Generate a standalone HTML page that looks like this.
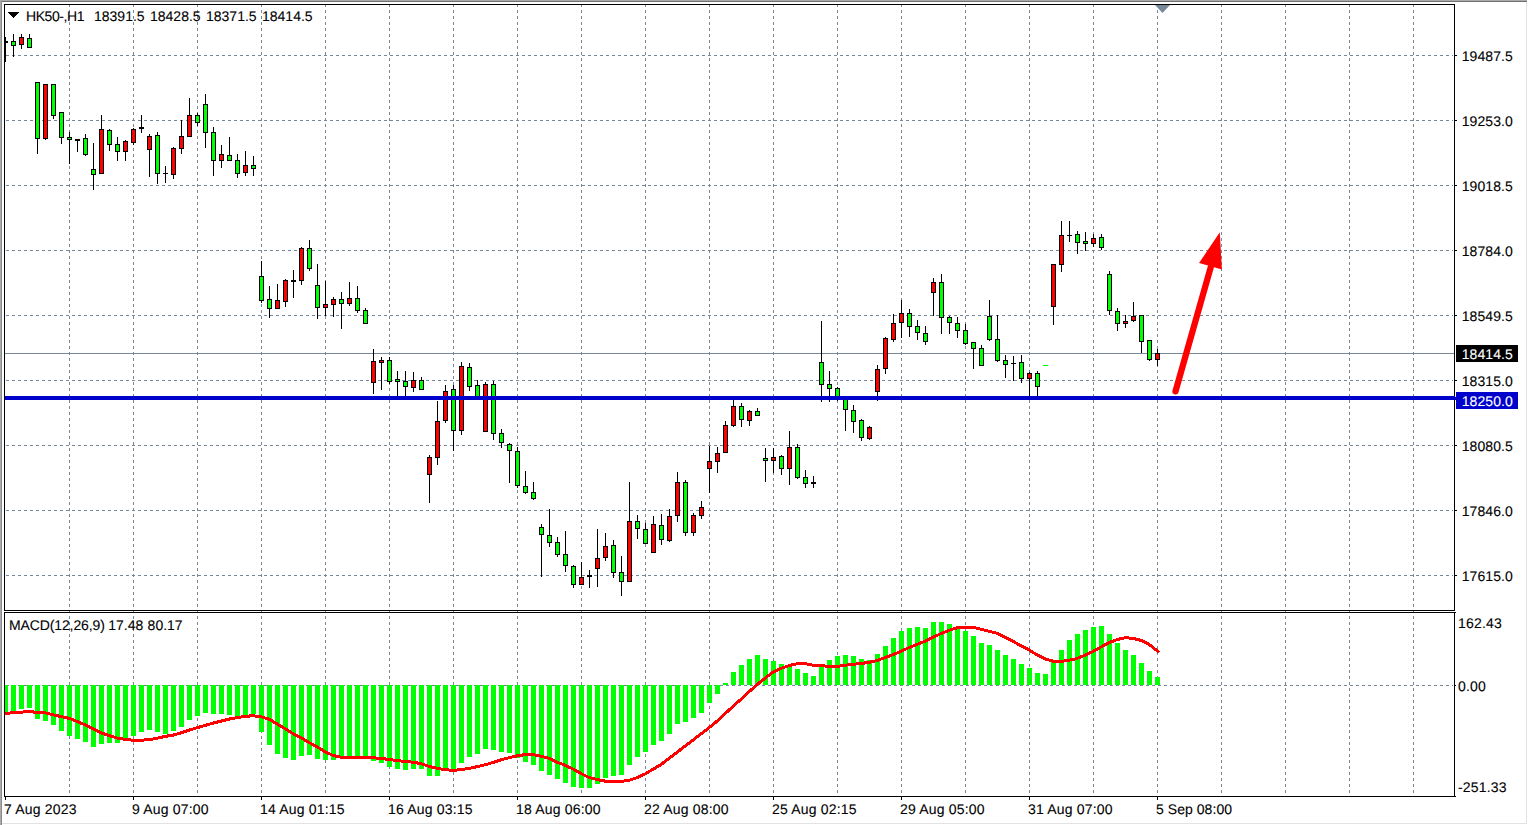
<!DOCTYPE html>
<html><head><meta charset="utf-8"><title>HK50-,H1</title>
<style>html,body{margin:0;padding:0;background:#fff;overflow:hidden}body{width:1528px;height:825px;position:relative;font-family:"Liberation Sans",sans-serif}</style></head>
<body>
<svg width="1528" height="825" viewBox="0 0 1528 825" style="position:absolute;left:0;top:0" shape-rendering="crispEdges">
<rect x="0" y="0" width="1528" height="825" fill="#fff"/>
<rect x="0" y="0" width="1527" height="1" fill="#ababab"/>
<rect x="1" y="1" width="1526" height="1" fill="#707070"/>
<rect x="0" y="0" width="1" height="825" fill="#ababab"/>
<rect x="1" y="1" width="1" height="824" fill="#8a8a8a"/>
<rect x="1526" y="2" width="1" height="822" fill="#e3e3e3"/>
<rect x="2" y="823" width="1525" height="1" fill="#e3e3e3"/>
<g stroke="#778899" stroke-width="1" stroke-dasharray="3 3" fill="none">
<path d="M69.5 4V610"/>
<path d="M69.5 610V796"/>
<path d="M133.5 4V610"/>
<path d="M133.5 610V796"/>
<path d="M197.5 4V610"/>
<path d="M197.5 610V796"/>
<path d="M261.5 4V610"/>
<path d="M261.5 610V796"/>
<path d="M325.5 4V610"/>
<path d="M325.5 610V796"/>
<path d="M389.5 4V610"/>
<path d="M389.5 610V796"/>
<path d="M453.5 4V610"/>
<path d="M453.5 610V796"/>
<path d="M517.5 4V610"/>
<path d="M517.5 610V796"/>
<path d="M581.5 4V610"/>
<path d="M581.5 610V796"/>
<path d="M645.5 4V610"/>
<path d="M645.5 610V796"/>
<path d="M709.5 4V610"/>
<path d="M709.5 610V796"/>
<path d="M773.5 4V610"/>
<path d="M773.5 610V796"/>
<path d="M837.5 4V610"/>
<path d="M837.5 610V796"/>
<path d="M901.5 4V610"/>
<path d="M901.5 610V796"/>
<path d="M965.5 4V610"/>
<path d="M965.5 610V796"/>
<path d="M1029.5 4V610"/>
<path d="M1029.5 610V796"/>
<path d="M1093.5 4V610"/>
<path d="M1093.5 610V796"/>
<path d="M1157.5 4V610"/>
<path d="M1157.5 610V796"/>
<path d="M1221.5 4V610"/>
<path d="M1221.5 610V796"/>
<path d="M1285.5 4V610"/>
<path d="M1285.5 610V796"/>
<path d="M1349.5 4V610"/>
<path d="M1349.5 610V796"/>
<path d="M1413.5 4V610"/>
<path d="M1413.5 610V796"/>
<path d="M6 55.5H1453"/>
<path d="M6 120.5H1453"/>
<path d="M6 185.5H1453"/>
<path d="M6 250.5H1453"/>
<path d="M6 315.5H1453"/>
<path d="M6 380.5H1453"/>
<path d="M6 445.5H1453"/>
<path d="M6 510.5H1453"/>
<path d="M6 575.5H1453"/>
<path d="M6 685.5H1453"/>
</g>
<g fill="#00ff00">
<rect x="5" y="685" width="3" height="28"/>
<rect x="11" y="685" width="5" height="26"/>
<rect x="19" y="685" width="5" height="24"/>
<rect x="27" y="685" width="5" height="23"/>
<rect x="35" y="685" width="5" height="34"/>
<rect x="43" y="685" width="5" height="36"/>
<rect x="51" y="685" width="5" height="40"/>
<rect x="59" y="685" width="5" height="46"/>
<rect x="67" y="685" width="5" height="51"/>
<rect x="75" y="685" width="5" height="54"/>
<rect x="83" y="685" width="5" height="57"/>
<rect x="91" y="685" width="5" height="62"/>
<rect x="99" y="685" width="5" height="59"/>
<rect x="107" y="685" width="5" height="58"/>
<rect x="115" y="685" width="5" height="58"/>
<rect x="123" y="685" width="5" height="53"/>
<rect x="131" y="685" width="5" height="51"/>
<rect x="139" y="685" width="5" height="47"/>
<rect x="147" y="685" width="5" height="45"/>
<rect x="155" y="685" width="5" height="47"/>
<rect x="163" y="685" width="5" height="49"/>
<rect x="171" y="685" width="5" height="46"/>
<rect x="179" y="685" width="5" height="42"/>
<rect x="187" y="685" width="5" height="35"/>
<rect x="195" y="685" width="5" height="31"/>
<rect x="203" y="685" width="5" height="28"/>
<rect x="211" y="685" width="5" height="29"/>
<rect x="219" y="685" width="5" height="29"/>
<rect x="227" y="685" width="5" height="30"/>
<rect x="235" y="685" width="5" height="31"/>
<rect x="243" y="685" width="5" height="30"/>
<rect x="251" y="685" width="5" height="29"/>
<rect x="259" y="685" width="5" height="47"/>
<rect x="267" y="685" width="5" height="60"/>
<rect x="275" y="685" width="5" height="69"/>
<rect x="283" y="685" width="5" height="73"/>
<rect x="291" y="685" width="5" height="75"/>
<rect x="299" y="685" width="5" height="71"/>
<rect x="307" y="685" width="5" height="70"/>
<rect x="315" y="685" width="5" height="74"/>
<rect x="323" y="685" width="5" height="75"/>
<rect x="331" y="685" width="5" height="75"/>
<rect x="339" y="685" width="5" height="73"/>
<rect x="347" y="685" width="5" height="73"/>
<rect x="355" y="685" width="5" height="73"/>
<rect x="363" y="685" width="5" height="73"/>
<rect x="371" y="685" width="5" height="76"/>
<rect x="379" y="685" width="5" height="78"/>
<rect x="387" y="685" width="5" height="82"/>
<rect x="395" y="685" width="5" height="84"/>
<rect x="403" y="685" width="5" height="85"/>
<rect x="411" y="685" width="5" height="84"/>
<rect x="419" y="685" width="5" height="84"/>
<rect x="427" y="685" width="5" height="91"/>
<rect x="435" y="685" width="5" height="91"/>
<rect x="443" y="685" width="5" height="85"/>
<rect x="451" y="685" width="5" height="85"/>
<rect x="459" y="685" width="5" height="78"/>
<rect x="467" y="685" width="5" height="72"/>
<rect x="475" y="685" width="5" height="69"/>
<rect x="483" y="685" width="5" height="64"/>
<rect x="491" y="685" width="5" height="65"/>
<rect x="499" y="685" width="5" height="67"/>
<rect x="507" y="685" width="5" height="68"/>
<rect x="515" y="685" width="5" height="73"/>
<rect x="523" y="685" width="5" height="77"/>
<rect x="531" y="685" width="5" height="80"/>
<rect x="539" y="685" width="5" height="86"/>
<rect x="547" y="685" width="5" height="90"/>
<rect x="555" y="685" width="5" height="94"/>
<rect x="563" y="685" width="5" height="98"/>
<rect x="571" y="685" width="5" height="102"/>
<rect x="579" y="685" width="5" height="103"/>
<rect x="587" y="685" width="5" height="103"/>
<rect x="595" y="685" width="5" height="99"/>
<rect x="603" y="685" width="5" height="93"/>
<rect x="611" y="685" width="5" height="91"/>
<rect x="619" y="685" width="5" height="90"/>
<rect x="627" y="685" width="5" height="80"/>
<rect x="635" y="685" width="5" height="72"/>
<rect x="643" y="685" width="5" height="67"/>
<rect x="651" y="685" width="5" height="60"/>
<rect x="659" y="685" width="5" height="56"/>
<rect x="667" y="685" width="5" height="49"/>
<rect x="675" y="685" width="5" height="39"/>
<rect x="683" y="685" width="5" height="37"/>
<rect x="691" y="685" width="5" height="33"/>
<rect x="699" y="685" width="5" height="28"/>
<rect x="707" y="685" width="5" height="18"/>
<rect x="715" y="685" width="5" height="9"/>
<rect x="723" y="683" width="5" height="2"/>
<rect x="731" y="672" width="5" height="13"/>
<rect x="739" y="665" width="5" height="20"/>
<rect x="747" y="659" width="5" height="26"/>
<rect x="755" y="655" width="5" height="30"/>
<rect x="763" y="659" width="5" height="26"/>
<rect x="771" y="661" width="5" height="24"/>
<rect x="779" y="664" width="5" height="21"/>
<rect x="787" y="665" width="5" height="20"/>
<rect x="795" y="669" width="5" height="16"/>
<rect x="803" y="673" width="5" height="12"/>
<rect x="811" y="676" width="5" height="9"/>
<rect x="819" y="665" width="5" height="20"/>
<rect x="827" y="660" width="5" height="25"/>
<rect x="835" y="656" width="5" height="29"/>
<rect x="843" y="655" width="5" height="30"/>
<rect x="851" y="656" width="5" height="29"/>
<rect x="859" y="659" width="5" height="26"/>
<rect x="867" y="660" width="5" height="25"/>
<rect x="875" y="654" width="5" height="31"/>
<rect x="883" y="646" width="5" height="39"/>
<rect x="891" y="638" width="5" height="47"/>
<rect x="899" y="631" width="5" height="54"/>
<rect x="907" y="628" width="5" height="57"/>
<rect x="915" y="627" width="5" height="58"/>
<rect x="923" y="628" width="5" height="57"/>
<rect x="931" y="622" width="5" height="63"/>
<rect x="939" y="622" width="5" height="63"/>
<rect x="947" y="624" width="5" height="61"/>
<rect x="955" y="627" width="5" height="58"/>
<rect x="963" y="631" width="5" height="54"/>
<rect x="971" y="636" width="5" height="49"/>
<rect x="979" y="643" width="5" height="42"/>
<rect x="987" y="645" width="5" height="40"/>
<rect x="995" y="650" width="5" height="35"/>
<rect x="1003" y="655" width="5" height="30"/>
<rect x="1011" y="659" width="5" height="26"/>
<rect x="1019" y="664" width="5" height="21"/>
<rect x="1027" y="668" width="5" height="17"/>
<rect x="1035" y="673" width="5" height="12"/>
<rect x="1043" y="674" width="5" height="11"/>
<rect x="1051" y="661" width="5" height="24"/>
<rect x="1059" y="650" width="5" height="35"/>
<rect x="1067" y="640" width="5" height="45"/>
<rect x="1075" y="634" width="5" height="51"/>
<rect x="1083" y="630" width="5" height="55"/>
<rect x="1091" y="627" width="5" height="58"/>
<rect x="1099" y="626" width="5" height="59"/>
<rect x="1107" y="634" width="5" height="51"/>
<rect x="1115" y="643" width="5" height="42"/>
<rect x="1123" y="650" width="5" height="35"/>
<rect x="1131" y="655" width="5" height="30"/>
<rect x="1139" y="663" width="5" height="22"/>
<rect x="1147" y="671" width="5" height="14"/>
<rect x="1155" y="677" width="5" height="8"/>
</g>
<polyline points="5,713.4 13,712.8 21,712.3 29,711.2 37,712.6 45,712.8 53,714.7 61,716.6 69,718.3 77,721.3 85,724.9 93,728.9 101,732.8 109,735.5 117,738 125,739.4 133,740.2 141,740.2 149,739.6 157,738.3 165,736.4 173,735.2 181,732.8 189,730.1 197,727.8 205,725.4 213,723.1 221,721.2 229,719.1 237,717.6 245,716.4 253,715.7 261,716.8 269,719.1 277,723.9 285,728.6 293,733.6 301,737.7 309,742.5 317,746.7 325,751.8 333,755.4 341,757.3 349,757.4 357,757.4 365,757.4 373,757.7 381,758.5 389,759.4 397,760.6 405,761.4 413,762.2 421,763.6 429,766.4 437,768.3 445,769.6 453,770.4 461,769.6 469,768.5 477,766.7 485,764.8 493,762.5 501,759.8 509,757.7 517,755.9 525,754.6 533,754.6 541,756.2 549,758.2 557,762.2 565,765.2 573,769 581,773.5 589,777.5 597,779.5 605,781.1 613,781.4 621,781.4 629,780.3 637,777.6 645,774 653,769.3 661,764.6 669,758.3 677,752.4 685,746.1 693,740.1 701,733.8 709,727.8 717,721.2 725,713.7 733,706.4 741,699.2 749,691.8 757,684.6 765,678.3 773,672.2 781,668.4 789,665.6 797,663.7 805,663.5 813,665.3 821,665.6 829,666.4 837,666.4 845,665.3 853,664.3 861,663.5 869,662.4 877,660.5 885,657.7 893,654.6 901,651.4 909,647.5 917,644.5 925,641.2 933,637.2 941,633.6 949,630.4 957,627.8 965,627.3 973,627.3 981,629.3 989,631.2 997,633.3 1005,637.2 1013,641.2 1021,645.9 1029,649.8 1037,654.9 1045,658.8 1053,661.2 1061,661.5 1069,660.3 1077,658.5 1085,655.1 1093,651.5 1101,647 1109,642.7 1117,639.6 1125,637.7 1133,638.3 1141,640.4 1149,644.3 1157,650.6 1159,652.2" fill="none" stroke="#ff0000" stroke-width="3" stroke-linejoin="round" shape-rendering="crispEdges"/>
<rect x="5" y="353" width="1449" height="1" fill="#778899"/>
<g>
<rect x="5" y="37" width="1" height="25" fill="#000"/>
<rect x="5" y="41" width="3" height="2" fill="#000"/>
<rect x="13" y="34" width="1" height="23" fill="#000"/>
<rect x="11" y="41" width="5" height="5" fill="#000"/>
<rect x="12" y="42" width="3" height="3" fill="#00ff00"/>
<rect x="21" y="34" width="1" height="15" fill="#000"/>
<rect x="19" y="37" width="5" height="8" fill="#000"/>
<rect x="20" y="38" width="3" height="6" fill="#ff0000"/>
<rect x="29" y="34" width="1" height="14" fill="#000"/>
<rect x="27" y="38" width="5" height="10" fill="#000"/>
<rect x="28" y="39" width="3" height="8" fill="#00ff00"/>
<rect x="37" y="82" width="1" height="72" fill="#000"/>
<rect x="35" y="82" width="5" height="57" fill="#000"/>
<rect x="36" y="83" width="3" height="55" fill="#00ff00"/>
<rect x="45" y="84" width="1" height="56" fill="#000"/>
<rect x="43" y="84" width="5" height="55" fill="#000"/>
<rect x="44" y="85" width="3" height="53" fill="#ff0000"/>
<rect x="53" y="84" width="1" height="35" fill="#000"/>
<rect x="51" y="84" width="5" height="32" fill="#000"/>
<rect x="52" y="85" width="3" height="30" fill="#00ff00"/>
<rect x="61" y="112" width="1" height="32" fill="#000"/>
<rect x="59" y="112" width="5" height="26" fill="#000"/>
<rect x="60" y="113" width="3" height="24" fill="#00ff00"/>
<rect x="69" y="132" width="1" height="32" fill="#000"/>
<rect x="67" y="137" width="5" height="3" fill="#000"/>
<rect x="68" y="138" width="3" height="1" fill="#00ff00"/>
<rect x="77" y="139" width="1" height="13" fill="#000"/>
<rect x="75" y="139" width="5" height="2" fill="#000"/>
<rect x="85" y="134" width="1" height="22" fill="#000"/>
<rect x="83" y="138" width="5" height="17" fill="#000"/>
<rect x="84" y="139" width="3" height="15" fill="#00ff00"/>
<rect x="93" y="143" width="1" height="47" fill="#000"/>
<rect x="91" y="169" width="5" height="6" fill="#000"/>
<rect x="92" y="170" width="3" height="4" fill="#00ff00"/>
<rect x="101" y="115" width="1" height="59" fill="#000"/>
<rect x="99" y="129" width="5" height="45" fill="#000"/>
<rect x="100" y="130" width="3" height="43" fill="#ff0000"/>
<rect x="109" y="129" width="1" height="22" fill="#000"/>
<rect x="107" y="130" width="5" height="15" fill="#000"/>
<rect x="108" y="131" width="3" height="13" fill="#00ff00"/>
<rect x="117" y="137" width="1" height="24" fill="#000"/>
<rect x="115" y="144" width="5" height="8" fill="#000"/>
<rect x="116" y="145" width="3" height="6" fill="#00ff00"/>
<rect x="125" y="140" width="1" height="21" fill="#000"/>
<rect x="123" y="141" width="5" height="11" fill="#000"/>
<rect x="124" y="142" width="3" height="9" fill="#ff0000"/>
<rect x="133" y="128" width="1" height="17" fill="#000"/>
<rect x="131" y="129" width="5" height="14" fill="#000"/>
<rect x="132" y="130" width="3" height="12" fill="#ff0000"/>
<rect x="141" y="115" width="1" height="18" fill="#000"/>
<rect x="139" y="127" width="5" height="2" fill="#000"/>
<rect x="149" y="134" width="1" height="43" fill="#000"/>
<rect x="147" y="136" width="5" height="14" fill="#000"/>
<rect x="148" y="137" width="3" height="12" fill="#ff0000"/>
<rect x="157" y="132" width="1" height="52" fill="#000"/>
<rect x="155" y="135" width="5" height="39" fill="#000"/>
<rect x="156" y="136" width="3" height="37" fill="#00ff00"/>
<rect x="165" y="166" width="1" height="17" fill="#000"/>
<rect x="163" y="173" width="5" height="1" fill="#000"/>
<rect x="173" y="147" width="1" height="32" fill="#000"/>
<rect x="171" y="148" width="5" height="27" fill="#000"/>
<rect x="172" y="149" width="3" height="25" fill="#ff0000"/>
<rect x="181" y="120" width="1" height="34" fill="#000"/>
<rect x="179" y="136" width="5" height="13" fill="#000"/>
<rect x="180" y="137" width="3" height="11" fill="#ff0000"/>
<rect x="189" y="98" width="1" height="39" fill="#000"/>
<rect x="187" y="115" width="5" height="22" fill="#000"/>
<rect x="188" y="116" width="3" height="20" fill="#ff0000"/>
<rect x="197" y="113" width="1" height="13" fill="#000"/>
<rect x="195" y="115" width="5" height="8" fill="#000"/>
<rect x="196" y="116" width="3" height="6" fill="#00ff00"/>
<rect x="205" y="94" width="1" height="54" fill="#000"/>
<rect x="203" y="104" width="5" height="29" fill="#000"/>
<rect x="204" y="105" width="3" height="27" fill="#00ff00"/>
<rect x="213" y="127" width="1" height="49" fill="#000"/>
<rect x="211" y="132" width="5" height="29" fill="#000"/>
<rect x="212" y="133" width="3" height="27" fill="#00ff00"/>
<rect x="221" y="145" width="1" height="23" fill="#000"/>
<rect x="219" y="154" width="5" height="7" fill="#000"/>
<rect x="220" y="155" width="3" height="5" fill="#ff0000"/>
<rect x="229" y="137" width="1" height="24" fill="#000"/>
<rect x="227" y="155" width="5" height="6" fill="#000"/>
<rect x="228" y="156" width="3" height="4" fill="#00ff00"/>
<rect x="237" y="154" width="1" height="24" fill="#000"/>
<rect x="235" y="160" width="5" height="14" fill="#000"/>
<rect x="236" y="161" width="3" height="12" fill="#00ff00"/>
<rect x="245" y="151" width="1" height="25" fill="#000"/>
<rect x="243" y="165" width="5" height="8" fill="#000"/>
<rect x="244" y="166" width="3" height="6" fill="#ff0000"/>
<rect x="253" y="156" width="1" height="20" fill="#000"/>
<rect x="251" y="165" width="5" height="4" fill="#000"/>
<rect x="252" y="166" width="3" height="2" fill="#00ff00"/>
<rect x="261" y="261" width="1" height="42" fill="#000"/>
<rect x="259" y="276" width="5" height="25" fill="#000"/>
<rect x="260" y="277" width="3" height="23" fill="#00ff00"/>
<rect x="269" y="286" width="1" height="32" fill="#000"/>
<rect x="267" y="299" width="5" height="10" fill="#000"/>
<rect x="268" y="300" width="3" height="8" fill="#00ff00"/>
<rect x="277" y="284" width="1" height="25" fill="#000"/>
<rect x="275" y="300" width="5" height="9" fill="#000"/>
<rect x="276" y="301" width="3" height="7" fill="#ff0000"/>
<rect x="285" y="279" width="1" height="28" fill="#000"/>
<rect x="283" y="280" width="5" height="22" fill="#000"/>
<rect x="284" y="281" width="3" height="20" fill="#ff0000"/>
<rect x="293" y="270" width="1" height="28" fill="#000"/>
<rect x="291" y="280" width="5" height="2" fill="#000"/>
<rect x="301" y="247" width="1" height="38" fill="#000"/>
<rect x="299" y="248" width="5" height="33" fill="#000"/>
<rect x="300" y="249" width="3" height="31" fill="#ff0000"/>
<rect x="309" y="240" width="1" height="31" fill="#000"/>
<rect x="307" y="248" width="5" height="21" fill="#000"/>
<rect x="308" y="249" width="3" height="19" fill="#00ff00"/>
<rect x="317" y="264" width="1" height="55" fill="#000"/>
<rect x="315" y="285" width="5" height="23" fill="#000"/>
<rect x="316" y="286" width="3" height="21" fill="#00ff00"/>
<rect x="325" y="281" width="1" height="35" fill="#000"/>
<rect x="323" y="304" width="5" height="4" fill="#000"/>
<rect x="324" y="305" width="3" height="2" fill="#ff0000"/>
<rect x="333" y="297" width="1" height="20" fill="#000"/>
<rect x="331" y="299" width="5" height="6" fill="#000"/>
<rect x="332" y="300" width="3" height="4" fill="#ff0000"/>
<rect x="341" y="292" width="1" height="37" fill="#000"/>
<rect x="339" y="299" width="5" height="5" fill="#000"/>
<rect x="340" y="300" width="3" height="3" fill="#00ff00"/>
<rect x="349" y="282" width="1" height="24" fill="#000"/>
<rect x="347" y="298" width="5" height="6" fill="#000"/>
<rect x="348" y="299" width="3" height="4" fill="#ff0000"/>
<rect x="357" y="286" width="1" height="27" fill="#000"/>
<rect x="355" y="298" width="5" height="13" fill="#000"/>
<rect x="356" y="299" width="3" height="11" fill="#00ff00"/>
<rect x="365" y="308" width="1" height="16" fill="#000"/>
<rect x="363" y="310" width="5" height="14" fill="#000"/>
<rect x="364" y="311" width="3" height="12" fill="#00ff00"/>
<rect x="373" y="349" width="1" height="45" fill="#000"/>
<rect x="371" y="361" width="5" height="22" fill="#000"/>
<rect x="372" y="362" width="3" height="20" fill="#ff0000"/>
<rect x="381" y="357" width="1" height="33" fill="#000"/>
<rect x="379" y="360" width="5" height="3" fill="#000"/>
<rect x="380" y="361" width="3" height="1" fill="#ff0000"/>
<rect x="389" y="357" width="1" height="27" fill="#000"/>
<rect x="387" y="360" width="5" height="22" fill="#000"/>
<rect x="388" y="361" width="3" height="20" fill="#00ff00"/>
<rect x="397" y="371" width="1" height="27" fill="#000"/>
<rect x="395" y="379" width="5" height="3" fill="#000"/>
<rect x="396" y="380" width="3" height="1" fill="#00ff00"/>
<rect x="405" y="371" width="1" height="27" fill="#000"/>
<rect x="403" y="381" width="5" height="6" fill="#000"/>
<rect x="404" y="382" width="3" height="4" fill="#00ff00"/>
<rect x="413" y="372" width="1" height="20" fill="#000"/>
<rect x="411" y="380" width="5" height="8" fill="#000"/>
<rect x="412" y="381" width="3" height="6" fill="#ff0000"/>
<rect x="421" y="377" width="1" height="13" fill="#000"/>
<rect x="419" y="380" width="5" height="10" fill="#000"/>
<rect x="420" y="381" width="3" height="8" fill="#00ff00"/>
<rect x="429" y="455" width="1" height="48" fill="#000"/>
<rect x="427" y="457" width="5" height="18" fill="#000"/>
<rect x="428" y="458" width="3" height="16" fill="#ff0000"/>
<rect x="437" y="401" width="1" height="64" fill="#000"/>
<rect x="435" y="421" width="5" height="37" fill="#000"/>
<rect x="436" y="422" width="3" height="35" fill="#ff0000"/>
<rect x="445" y="385" width="1" height="38" fill="#000"/>
<rect x="443" y="391" width="5" height="30" fill="#000"/>
<rect x="444" y="392" width="3" height="28" fill="#ff0000"/>
<rect x="453" y="385" width="1" height="66" fill="#000"/>
<rect x="451" y="389" width="5" height="42" fill="#000"/>
<rect x="452" y="390" width="3" height="40" fill="#00ff00"/>
<rect x="461" y="362" width="1" height="73" fill="#000"/>
<rect x="459" y="366" width="5" height="65" fill="#000"/>
<rect x="460" y="367" width="3" height="63" fill="#ff0000"/>
<rect x="469" y="363" width="1" height="28" fill="#000"/>
<rect x="467" y="367" width="5" height="20" fill="#000"/>
<rect x="468" y="368" width="3" height="18" fill="#00ff00"/>
<rect x="477" y="380" width="1" height="18" fill="#000"/>
<rect x="475" y="385" width="5" height="13" fill="#000"/>
<rect x="476" y="386" width="3" height="11" fill="#00ff00"/>
<rect x="485" y="382" width="1" height="50" fill="#000"/>
<rect x="483" y="384" width="5" height="48" fill="#000"/>
<rect x="484" y="385" width="3" height="46" fill="#ff0000"/>
<rect x="493" y="381" width="1" height="59" fill="#000"/>
<rect x="491" y="384" width="5" height="50" fill="#000"/>
<rect x="492" y="385" width="3" height="48" fill="#00ff00"/>
<rect x="501" y="429" width="1" height="19" fill="#000"/>
<rect x="499" y="433" width="5" height="10" fill="#000"/>
<rect x="500" y="434" width="3" height="8" fill="#00ff00"/>
<rect x="509" y="443" width="1" height="40" fill="#000"/>
<rect x="507" y="444" width="5" height="7" fill="#000"/>
<rect x="508" y="445" width="3" height="5" fill="#00ff00"/>
<rect x="517" y="447" width="1" height="41" fill="#000"/>
<rect x="515" y="451" width="5" height="35" fill="#000"/>
<rect x="516" y="452" width="3" height="33" fill="#00ff00"/>
<rect x="525" y="471" width="1" height="23" fill="#000"/>
<rect x="523" y="486" width="5" height="7" fill="#000"/>
<rect x="524" y="487" width="3" height="5" fill="#00ff00"/>
<rect x="533" y="482" width="1" height="18" fill="#000"/>
<rect x="531" y="492" width="5" height="7" fill="#000"/>
<rect x="532" y="493" width="3" height="5" fill="#00ff00"/>
<rect x="541" y="524" width="1" height="53" fill="#000"/>
<rect x="539" y="527" width="5" height="8" fill="#000"/>
<rect x="540" y="528" width="3" height="6" fill="#00ff00"/>
<rect x="549" y="509" width="1" height="38" fill="#000"/>
<rect x="547" y="535" width="5" height="8" fill="#000"/>
<rect x="548" y="536" width="3" height="6" fill="#00ff00"/>
<rect x="557" y="537" width="1" height="20" fill="#000"/>
<rect x="555" y="542" width="5" height="13" fill="#000"/>
<rect x="556" y="543" width="3" height="11" fill="#00ff00"/>
<rect x="565" y="531" width="1" height="41" fill="#000"/>
<rect x="563" y="554" width="5" height="12" fill="#000"/>
<rect x="564" y="555" width="3" height="10" fill="#00ff00"/>
<rect x="573" y="565" width="1" height="23" fill="#000"/>
<rect x="571" y="566" width="5" height="19" fill="#000"/>
<rect x="572" y="567" width="3" height="17" fill="#00ff00"/>
<rect x="581" y="562" width="1" height="23" fill="#000"/>
<rect x="579" y="577" width="5" height="8" fill="#000"/>
<rect x="580" y="578" width="3" height="6" fill="#ff0000"/>
<rect x="589" y="570" width="1" height="18" fill="#000"/>
<rect x="587" y="575" width="5" height="2" fill="#000"/>
<rect x="597" y="529" width="1" height="58" fill="#000"/>
<rect x="595" y="558" width="5" height="11" fill="#000"/>
<rect x="596" y="559" width="3" height="9" fill="#ff0000"/>
<rect x="605" y="533" width="1" height="28" fill="#000"/>
<rect x="603" y="546" width="5" height="12" fill="#000"/>
<rect x="604" y="547" width="3" height="10" fill="#ff0000"/>
<rect x="613" y="540" width="1" height="38" fill="#000"/>
<rect x="611" y="545" width="5" height="28" fill="#000"/>
<rect x="612" y="546" width="3" height="26" fill="#00ff00"/>
<rect x="621" y="556" width="1" height="40" fill="#000"/>
<rect x="619" y="572" width="5" height="10" fill="#000"/>
<rect x="620" y="573" width="3" height="8" fill="#00ff00"/>
<rect x="629" y="482" width="1" height="100" fill="#000"/>
<rect x="627" y="521" width="5" height="61" fill="#000"/>
<rect x="628" y="522" width="3" height="59" fill="#ff0000"/>
<rect x="637" y="515" width="1" height="24" fill="#000"/>
<rect x="635" y="521" width="5" height="8" fill="#000"/>
<rect x="636" y="522" width="3" height="6" fill="#00ff00"/>
<rect x="645" y="523" width="1" height="21" fill="#000"/>
<rect x="643" y="529" width="5" height="15" fill="#000"/>
<rect x="644" y="530" width="3" height="13" fill="#00ff00"/>
<rect x="653" y="516" width="1" height="37" fill="#000"/>
<rect x="651" y="524" width="5" height="29" fill="#000"/>
<rect x="652" y="525" width="3" height="27" fill="#ff0000"/>
<rect x="661" y="514" width="1" height="31" fill="#000"/>
<rect x="659" y="525" width="5" height="15" fill="#000"/>
<rect x="660" y="526" width="3" height="13" fill="#00ff00"/>
<rect x="669" y="509" width="1" height="33" fill="#000"/>
<rect x="667" y="516" width="5" height="25" fill="#000"/>
<rect x="668" y="517" width="3" height="23" fill="#ff0000"/>
<rect x="677" y="472" width="1" height="50" fill="#000"/>
<rect x="675" y="482" width="5" height="34" fill="#000"/>
<rect x="676" y="483" width="3" height="32" fill="#ff0000"/>
<rect x="685" y="480" width="1" height="56" fill="#000"/>
<rect x="683" y="482" width="5" height="51" fill="#000"/>
<rect x="684" y="483" width="3" height="49" fill="#00ff00"/>
<rect x="693" y="513" width="1" height="23" fill="#000"/>
<rect x="691" y="515" width="5" height="18" fill="#000"/>
<rect x="692" y="516" width="3" height="16" fill="#ff0000"/>
<rect x="701" y="501" width="1" height="18" fill="#000"/>
<rect x="699" y="507" width="5" height="9" fill="#000"/>
<rect x="700" y="508" width="3" height="7" fill="#ff0000"/>
<rect x="709" y="446" width="1" height="47" fill="#000"/>
<rect x="707" y="461" width="5" height="8" fill="#000"/>
<rect x="708" y="462" width="3" height="6" fill="#ff0000"/>
<rect x="717" y="447" width="1" height="26" fill="#000"/>
<rect x="715" y="453" width="5" height="9" fill="#000"/>
<rect x="716" y="454" width="3" height="7" fill="#ff0000"/>
<rect x="725" y="421" width="1" height="32" fill="#000"/>
<rect x="723" y="425" width="5" height="28" fill="#000"/>
<rect x="724" y="426" width="3" height="26" fill="#ff0000"/>
<rect x="733" y="399" width="1" height="28" fill="#000"/>
<rect x="731" y="406" width="5" height="20" fill="#000"/>
<rect x="732" y="407" width="3" height="18" fill="#ff0000"/>
<rect x="741" y="403" width="1" height="24" fill="#000"/>
<rect x="739" y="406" width="5" height="14" fill="#000"/>
<rect x="740" y="407" width="3" height="12" fill="#00ff00"/>
<rect x="749" y="410" width="1" height="16" fill="#000"/>
<rect x="747" y="411" width="5" height="10" fill="#000"/>
<rect x="748" y="412" width="3" height="8" fill="#ff0000"/>
<rect x="757" y="408" width="1" height="8" fill="#000"/>
<rect x="755" y="411" width="5" height="5" fill="#000"/>
<rect x="756" y="412" width="3" height="3" fill="#00ff00"/>
<rect x="765" y="448" width="1" height="34" fill="#000"/>
<rect x="763" y="458" width="5" height="3" fill="#000"/>
<rect x="764" y="459" width="3" height="1" fill="#00ff00"/>
<rect x="773" y="448" width="1" height="25" fill="#000"/>
<rect x="771" y="457" width="5" height="4" fill="#000"/>
<rect x="772" y="458" width="3" height="2" fill="#ff0000"/>
<rect x="781" y="455" width="1" height="20" fill="#000"/>
<rect x="779" y="456" width="5" height="13" fill="#000"/>
<rect x="780" y="457" width="3" height="11" fill="#00ff00"/>
<rect x="789" y="431" width="1" height="54" fill="#000"/>
<rect x="787" y="447" width="5" height="22" fill="#000"/>
<rect x="788" y="448" width="3" height="20" fill="#ff0000"/>
<rect x="797" y="444" width="1" height="35" fill="#000"/>
<rect x="795" y="447" width="5" height="31" fill="#000"/>
<rect x="796" y="448" width="3" height="29" fill="#00ff00"/>
<rect x="805" y="470" width="1" height="18" fill="#000"/>
<rect x="803" y="477" width="5" height="7" fill="#000"/>
<rect x="804" y="478" width="3" height="5" fill="#00ff00"/>
<rect x="813" y="476" width="1" height="12" fill="#000"/>
<rect x="811" y="482" width="5" height="2" fill="#000"/>
<rect x="821" y="321" width="1" height="81" fill="#000"/>
<rect x="819" y="362" width="5" height="23" fill="#000"/>
<rect x="820" y="363" width="3" height="21" fill="#00ff00"/>
<rect x="829" y="371" width="1" height="31" fill="#000"/>
<rect x="827" y="384" width="5" height="5" fill="#000"/>
<rect x="828" y="385" width="3" height="3" fill="#00ff00"/>
<rect x="837" y="387" width="1" height="14" fill="#000"/>
<rect x="835" y="388" width="5" height="10" fill="#000"/>
<rect x="836" y="389" width="3" height="8" fill="#00ff00"/>
<rect x="845" y="397" width="1" height="34" fill="#000"/>
<rect x="843" y="397" width="5" height="13" fill="#000"/>
<rect x="844" y="398" width="3" height="11" fill="#00ff00"/>
<rect x="853" y="405" width="1" height="28" fill="#000"/>
<rect x="851" y="410" width="5" height="12" fill="#000"/>
<rect x="852" y="411" width="3" height="10" fill="#00ff00"/>
<rect x="861" y="419" width="1" height="22" fill="#000"/>
<rect x="859" y="420" width="5" height="18" fill="#000"/>
<rect x="860" y="421" width="3" height="16" fill="#00ff00"/>
<rect x="869" y="426" width="1" height="14" fill="#000"/>
<rect x="867" y="427" width="5" height="12" fill="#000"/>
<rect x="868" y="428" width="3" height="10" fill="#ff0000"/>
<rect x="877" y="365" width="1" height="36" fill="#000"/>
<rect x="875" y="369" width="5" height="23" fill="#000"/>
<rect x="876" y="370" width="3" height="21" fill="#ff0000"/>
<rect x="885" y="337" width="1" height="37" fill="#000"/>
<rect x="883" y="338" width="5" height="31" fill="#000"/>
<rect x="884" y="339" width="3" height="29" fill="#ff0000"/>
<rect x="893" y="314" width="1" height="28" fill="#000"/>
<rect x="891" y="323" width="5" height="17" fill="#000"/>
<rect x="892" y="324" width="3" height="15" fill="#ff0000"/>
<rect x="901" y="300" width="1" height="38" fill="#000"/>
<rect x="899" y="313" width="5" height="10" fill="#000"/>
<rect x="900" y="314" width="3" height="8" fill="#ff0000"/>
<rect x="909" y="309" width="1" height="28" fill="#000"/>
<rect x="907" y="313" width="5" height="14" fill="#000"/>
<rect x="908" y="314" width="3" height="12" fill="#00ff00"/>
<rect x="917" y="320" width="1" height="20" fill="#000"/>
<rect x="915" y="326" width="5" height="7" fill="#000"/>
<rect x="916" y="327" width="3" height="5" fill="#00ff00"/>
<rect x="925" y="326" width="1" height="19" fill="#000"/>
<rect x="923" y="333" width="5" height="9" fill="#000"/>
<rect x="924" y="334" width="3" height="7" fill="#00ff00"/>
<rect x="933" y="278" width="1" height="38" fill="#000"/>
<rect x="931" y="282" width="5" height="11" fill="#000"/>
<rect x="932" y="283" width="3" height="9" fill="#ff0000"/>
<rect x="941" y="274" width="1" height="60" fill="#000"/>
<rect x="939" y="282" width="5" height="36" fill="#000"/>
<rect x="940" y="283" width="3" height="34" fill="#00ff00"/>
<rect x="949" y="316" width="1" height="18" fill="#000"/>
<rect x="947" y="317" width="5" height="6" fill="#000"/>
<rect x="948" y="318" width="3" height="4" fill="#00ff00"/>
<rect x="957" y="317" width="1" height="21" fill="#000"/>
<rect x="955" y="323" width="5" height="8" fill="#000"/>
<rect x="956" y="324" width="3" height="6" fill="#00ff00"/>
<rect x="965" y="324" width="1" height="21" fill="#000"/>
<rect x="963" y="330" width="5" height="14" fill="#000"/>
<rect x="964" y="331" width="3" height="12" fill="#00ff00"/>
<rect x="973" y="342" width="1" height="27" fill="#000"/>
<rect x="971" y="342" width="5" height="7" fill="#000"/>
<rect x="972" y="343" width="3" height="5" fill="#00ff00"/>
<rect x="981" y="345" width="1" height="21" fill="#000"/>
<rect x="979" y="348" width="5" height="18" fill="#000"/>
<rect x="980" y="349" width="3" height="16" fill="#00ff00"/>
<rect x="989" y="300" width="1" height="41" fill="#000"/>
<rect x="987" y="316" width="5" height="24" fill="#000"/>
<rect x="988" y="317" width="3" height="22" fill="#00ff00"/>
<rect x="997" y="315" width="1" height="47" fill="#000"/>
<rect x="995" y="339" width="5" height="22" fill="#000"/>
<rect x="996" y="340" width="3" height="20" fill="#00ff00"/>
<rect x="1005" y="355" width="1" height="23" fill="#000"/>
<rect x="1003" y="360" width="5" height="5" fill="#000"/>
<rect x="1004" y="361" width="3" height="3" fill="#00ff00"/>
<rect x="1013" y="356" width="1" height="25" fill="#000"/>
<rect x="1011" y="363" width="5" height="1" fill="#000"/>
<rect x="1021" y="355" width="1" height="28" fill="#000"/>
<rect x="1019" y="362" width="5" height="17" fill="#000"/>
<rect x="1020" y="363" width="3" height="15" fill="#00ff00"/>
<rect x="1029" y="372" width="1" height="26" fill="#000"/>
<rect x="1027" y="373" width="5" height="6" fill="#000"/>
<rect x="1028" y="374" width="3" height="4" fill="#ff0000"/>
<rect x="1037" y="371" width="1" height="27" fill="#000"/>
<rect x="1035" y="373" width="5" height="14" fill="#000"/>
<rect x="1036" y="374" width="3" height="12" fill="#00ff00"/>
<rect x="1053" y="264" width="1" height="61" fill="#000"/>
<rect x="1051" y="264" width="5" height="43" fill="#000"/>
<rect x="1052" y="265" width="3" height="41" fill="#ff0000"/>
<rect x="1061" y="221" width="1" height="51" fill="#000"/>
<rect x="1059" y="235" width="5" height="30" fill="#000"/>
<rect x="1060" y="236" width="3" height="28" fill="#ff0000"/>
<rect x="1069" y="221" width="1" height="21" fill="#000"/>
<rect x="1067" y="235" width="5" height="1" fill="#000"/>
<rect x="1077" y="231" width="1" height="23" fill="#000"/>
<rect x="1075" y="234" width="5" height="9" fill="#000"/>
<rect x="1076" y="235" width="3" height="7" fill="#00ff00"/>
<rect x="1085" y="232" width="1" height="19" fill="#000"/>
<rect x="1083" y="241" width="5" height="3" fill="#000"/>
<rect x="1084" y="242" width="3" height="1" fill="#00ff00"/>
<rect x="1093" y="234" width="1" height="13" fill="#000"/>
<rect x="1091" y="238" width="5" height="6" fill="#000"/>
<rect x="1092" y="239" width="3" height="4" fill="#ff0000"/>
<rect x="1101" y="234" width="1" height="16" fill="#000"/>
<rect x="1099" y="237" width="5" height="11" fill="#000"/>
<rect x="1100" y="238" width="3" height="9" fill="#00ff00"/>
<rect x="1109" y="271" width="1" height="44" fill="#000"/>
<rect x="1107" y="274" width="5" height="37" fill="#000"/>
<rect x="1108" y="275" width="3" height="35" fill="#00ff00"/>
<rect x="1117" y="308" width="1" height="23" fill="#000"/>
<rect x="1115" y="311" width="5" height="13" fill="#000"/>
<rect x="1116" y="312" width="3" height="11" fill="#00ff00"/>
<rect x="1125" y="315" width="1" height="13" fill="#000"/>
<rect x="1123" y="321" width="5" height="3" fill="#000"/>
<rect x="1124" y="322" width="3" height="1" fill="#ff0000"/>
<rect x="1133" y="302" width="1" height="20" fill="#000"/>
<rect x="1131" y="316" width="5" height="5" fill="#000"/>
<rect x="1132" y="317" width="3" height="3" fill="#ff0000"/>
<rect x="1141" y="315" width="1" height="38" fill="#000"/>
<rect x="1139" y="315" width="5" height="27" fill="#000"/>
<rect x="1140" y="316" width="3" height="25" fill="#00ff00"/>
<rect x="1149" y="340" width="1" height="21" fill="#000"/>
<rect x="1147" y="340" width="5" height="20" fill="#000"/>
<rect x="1148" y="341" width="3" height="18" fill="#00ff00"/>
<rect x="1157" y="349" width="1" height="17" fill="#000"/>
<rect x="1155" y="353" width="5" height="7" fill="#000"/>
<rect x="1156" y="354" width="3" height="5" fill="#ff0000"/>
<rect x="1043" y="365" width="5" height="1" fill="#00ff00"/>
</g>
<rect x="5" y="396" width="1449" height="4" fill="#0000cd"/>
<g shape-rendering="geometricPrecision">
<line x1="1175.5" y1="391.4" x2="1210.8" y2="267" stroke="#ff0000" stroke-width="6.3" stroke-linecap="round"/>
<polygon points="1199.1,263 1219.8,232.2 1221.9,269.5" fill="#ff0000"/>
</g>
<polygon points="1155,5 1170,5 1162.5,12.9" fill="#778899" shape-rendering="geometricPrecision"/>
<g fill="#000">
<rect x="4" y="4" width="1451" height="1"/>
<rect x="4" y="610" width="1451" height="1"/>
<rect x="4" y="4" width="1" height="607"/>
<rect x="1454" y="4" width="1" height="607"/>
<rect x="4" y="612" width="1451" height="1"/>
<rect x="4" y="796" width="1451" height="1"/>
<rect x="4" y="612" width="1" height="185"/>
<rect x="1454" y="612" width="1" height="185"/>
<rect x="1455" y="55" width="2" height="1"/>
<rect x="1455" y="120" width="2" height="1"/>
<rect x="1455" y="185" width="2" height="1"/>
<rect x="1455" y="250" width="2" height="1"/>
<rect x="1455" y="315" width="2" height="1"/>
<rect x="1455" y="380" width="2" height="1"/>
<rect x="1455" y="445" width="2" height="1"/>
<rect x="1455" y="510" width="2" height="1"/>
<rect x="1455" y="575" width="2" height="1"/>
<rect x="1455" y="612" width="1" height="1"/>
<rect x="1455" y="685" width="1" height="1"/>
<rect x="1455" y="796" width="1" height="1"/>
<rect x="5" y="797" width="1" height="3"/>
<rect x="133" y="797" width="1" height="3"/>
<rect x="261" y="797" width="1" height="3"/>
<rect x="389" y="797" width="1" height="3"/>
<rect x="517" y="797" width="1" height="3"/>
<rect x="645" y="797" width="1" height="3"/>
<rect x="773" y="797" width="1" height="3"/>
<rect x="901" y="797" width="1" height="3"/>
<rect x="1029" y="797" width="1" height="3"/>
<rect x="1157" y="797" width="1" height="3"/>
<polygon points="8,12 19,12 13.5,18"/>
</g>
<rect x="1454" y="397" width="2" height="3" fill="#0000cd"/><rect x="1454" y="396" width="1" height="1" fill="#0000cd"/>
<rect x="1456" y="345" width="62" height="17" fill="#000"/>
<rect x="1456" y="392" width="62" height="17" fill="#0000cd"/>
<g font-family="Liberation Sans, sans-serif" font-size="14px" fill="#000" stroke="#000" stroke-width="0.1" shape-rendering="auto" text-rendering="geometricPrecision">
<text x="1461.7" y="61" letter-spacing="0.08">19487.5</text>
<text x="1461.7" y="126" letter-spacing="0.08">19253.0</text>
<text x="1461.7" y="191" letter-spacing="0.08">19018.5</text>
<text x="1461.7" y="256" letter-spacing="0.08">18784.0</text>
<text x="1461.7" y="321" letter-spacing="0.08">18549.5</text>
<text x="1461.7" y="386" letter-spacing="0.08">18315.0</text>
<text x="1461.7" y="451" letter-spacing="0.08">18080.5</text>
<text x="1461.7" y="516" letter-spacing="0.08">17846.0</text>
<text x="1461.7" y="581" letter-spacing="0.08">17615.0</text>
<text x="1461.7" y="359" fill="#fff" stroke="#fff" letter-spacing="0.08">18414.5</text>
<text x="1461.7" y="406" fill="#fff" stroke="#fff" letter-spacing="0.08">18250.0</text>
<text x="1458" y="628" letter-spacing="0.18">162.43</text>
<text x="1458" y="691" letter-spacing="0.18">0.00</text>
<text x="1458" y="792" letter-spacing="0.18">-251.33</text>
<text x="4" y="814" letter-spacing="0.18">7 Aug 2023</text>
<text x="132" y="814" letter-spacing="0.18">9 Aug 07:00</text>
<text x="260" y="814" letter-spacing="0.18">14 Aug 01:15</text>
<text x="388" y="814" letter-spacing="0.18">16 Aug 03:15</text>
<text x="516" y="814" letter-spacing="0.18">18 Aug 06:00</text>
<text x="644" y="814" letter-spacing="0.18">22 Aug 08:00</text>
<text x="772" y="814" letter-spacing="0.18">25 Aug 02:15</text>
<text x="900" y="814" letter-spacing="0.18">29 Aug 05:00</text>
<text x="1028" y="814" letter-spacing="0.18">31 Aug 07:00</text>
<text x="1156" y="814" letter-spacing="0.05">5 Sep 08:00</text>
<text x="26" y="21" letter-spacing="-0.43">HK50-,H1</text>
<text x="94.0" y="21">18391.5</text>
<text x="150.0" y="21">18428.5</text>
<text x="206.0" y="21">18371.5</text>
<text x="262.0" y="21">18414.5</text>
<text x="9" y="630" letter-spacing="-0.12">MACD(12,26,9)</text>
<text x="108.2" y="630">17.48</text>
<text x="147.6" y="630">80.17</text>
</g>
</svg>
</body></html>
